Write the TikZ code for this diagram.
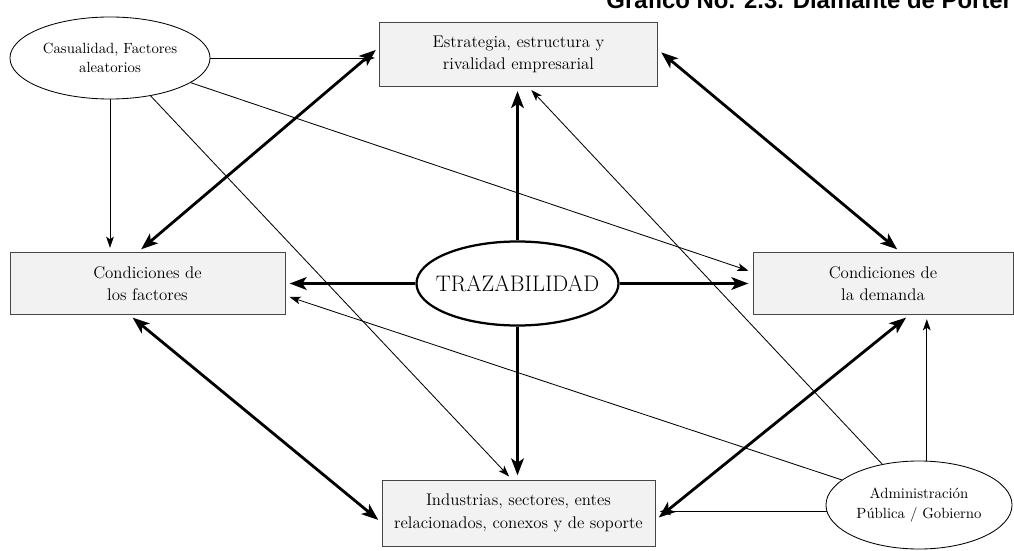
\documentclass[tikz,border=0pt]{standalone}
\usepackage{fontspec}
\newfontfamily\titlefont{Liberation Sans}
\usetikzlibrary{arrows.meta,shapes.geometric}

\begin{document}
\begin{tikzpicture}[x=0.025cm,y=-0.025cm]

    \tikzstyle{factor}+=[
        rectangle,
        draw=gray!55!black,
        line width = 0.6pt,
        fill=gray!10,
        minimum height=1.6cm,
        inner sep=0pt,
        align=center,
        font=\fontsize{12}{16}\selectfont
    ]
    \tikzstyle{outerell}+=[
        ellipse,
        draw,
        line width = 0.6pt,
        fill=white,
        inner sep=0pt,
        align=center,
        font=\fontsize{10.5}{14}\selectfont
    ]
    \tikzstyle{coreell}+=[
        ellipse,
        draw,
        line width = 1.6pt,
        fill=white,
        minimum width=5.05cm,
        minimum height=2.1cm
    ]
    \tikzstyle{thickline}+=[
        line width = 2pt
    ]
    \tikzstyle{thickarrow}+=[
        thickline,
        -{Stealth[length=12pt,width=9pt,inset=3pt]},
        shorten >=3pt
    ]
    \tikzstyle{thickboth}+=[
        thickline,
        {Stealth[length=12pt,width=9pt,inset=3pt]}-{Stealth[length=12pt,width=9pt,inset=3pt]},
        shorten >=3pt,
        shorten <=3pt
    ]
    \tikzstyle{thinarrow}+=[
        line width = 0.6pt,
        -{Stealth[length=8pt,width=5.5pt,inset=2pt]},
        shorten >=3pt
    ]

    % ----------------------------------------------------------------------------
    \useasboundingbox (0,0) rectangle (1014,551);
    \clip (0,0) rectangle (1014,551);

    \coordinate(casualidad) at (110,58);
    \coordinate(estrategia) at (518.5,54.5);
    \coordinate(factores) at (147.5,283.5);
    \coordinate(trazabilidad) at (517.5,283.5);
    \coordinate(demanda) at (883,283.5);
    \coordinate(industrias) at (518.5,513);
    \coordinate(gobierno) at (919,505);

    % ----------------------------------------------------------------------------
    \node[anchor=base east,font=\titlefont\bfseries\fontsize{17}{20}\selectfont] (titulo) at (1017,9) {Gráfico No. 2.3. Diamante de Porter};

    \node[outerell,minimum width=5cm,minimum height=2.05cm] (casual) at (casualidad) {Casualidad, Factores\\aleatorios};
    \node[factor,minimum width=6.95cm] (estr) at (estrategia) {Estrategia, estructura y\\rivalidad empresarial};
    \node[factor,minimum width=6.875cm,minimum height=1.55cm] (fact) at (factores) {Condiciones de\\los factores};
    \node[coreell] (traz) at (trazabilidad) {};
    \node[font=\fontsize{16}{18}\selectfont] (trazlabel) at (traz) {TRAZABILIDAD};
    \node[factor,minimum width=6.5cm,minimum height=1.55cm] (dem) at (demanda) {Condiciones de\\la demanda};
    \node[factor,minimum width=6.825cm,minimum height=1.65cm] (ind) at (industrias) {Industrias, sectores, entes\\relacionados, conexos y de soporte};
    \node[outerell,minimum width=4.65cm,minimum height=2.2cm] (admin) at (gobierno) {Administración\\Pública / Gobierno};

    % ----------------------------------------------------------------------------
    \draw[thickarrow] (traz.west) -- (traz.west -| fact.east);
    \draw[thickarrow] (traz.east) -- (traz.east -| dem.west);
    \draw[thickarrow] (traz.north) -- (traz.north |- estr.south);
    \draw[thickarrow] (traz.south) -- (traz.south |- ind.north);

    % ----------------------------------------------------------------------------
    \draw[thickboth] (fact.107) -- (estr.177);
    \draw[thickboth] (dem.61) -- (estr.2);
    \draw[thickboth] (fact.240) -- (ind.184);
    \draw[thickboth] (dem.-50) -- (ind.-3);

    % ----------------------------------------------------------------------------
    \draw[thinarrow] (casual.east) -- (casual.east -| estr.west);
    \draw[thinarrow] (casual.south) -- (casual.south |- fact.north);
    \draw[thinarrow] (casual.-43) -- (ind.101);
    \draw[thinarrow] (casual.-17) -- (dem.175);

    % ----------------------------------------------------------------------------
    \draw[thinarrow] (admin.132) -- (estr.-73);
    \draw[thinarrow] (admin.162) -- (fact.-5.6);
    \draw[thinarrow] (admin.184) -- (admin.184 -| ind.east);
    \draw[thinarrow] (admin.80) -- (admin.80 |- dem.south);

\end{tikzpicture}
\end{document}
